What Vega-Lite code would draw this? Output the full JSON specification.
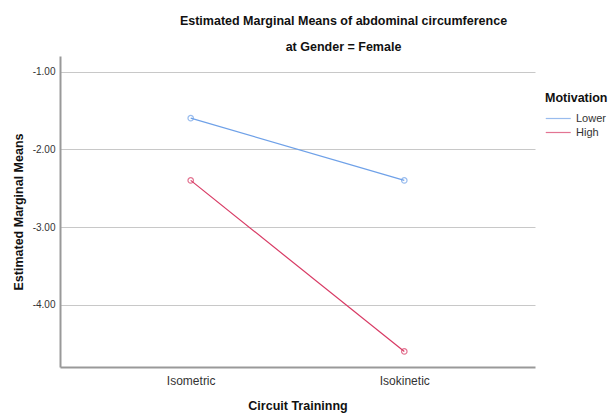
{
  "$schema": "https://vega.github.io/schema/vega-lite/v6.json",
  "autosize": "none",
  "width": 475,
  "height": 311,
  "padding": {"left": 60, "top": 56, "right": 74, "bottom": 48},
  "background": "white",
  "config": {
    "font": "Liberation Sans",
    "view": {"stroke": null}
  },
  "title": {
    "text": ["Estimated Marginal Means of abdominal circumference", "at Gender = Female"],
    "fontSize": 12.5,
    "fontWeight": "bold",
    "color": "#111",
    "anchor": "middle",
    "dx": 46,
    "offset": 3,
    "lineHeight": 26
  },
  "data": {
    "values": [
      {"training": "Isometric", "motivation": "Lower", "mean": -1.60},
      {"training": "Isokinetic", "motivation": "Lower", "mean": -2.40},
      {"training": "Isometric", "motivation": "High", "mean": -2.40},
      {"training": "Isokinetic", "motivation": "High", "mean": -4.60}
    ]
  },
  "encoding": {
    "x": {
      "field": "training",
      "type": "nominal",
      "sort": ["Isometric", "Isokinetic"],
      "scale": {"type": "point", "padding": 0.612},
      "axis": {
        "title": "Circuit Traininng",
        "titleFontSize": 12.5,
        "titleFontWeight": "bold",
        "titleColor": "#111",
        "titlePadding": 13,
        "labelAngle": 0,
        "labelFontSize": 12,
        "labelColor": "#333",
        "labelPadding": 8,
        "ticks": false,
        "domainColor": "#999",
        "domainWidth": 2,
        "grid": false
      }
    },
    "y": {
      "field": "mean",
      "type": "quantitative",
      "scale": {"domain": [-4.8, -0.8], "nice": false, "zero": false},
      "axis": {
        "title": "Estimated Marginal Means",
        "titleFontSize": 12.5,
        "titleFontWeight": "bold",
        "titleColor": "#111",
        "titlePadding": 7,
        "values": [-1, -2, -3, -4],
        "labelExpr": "replace(format(datum.value, '.2f'), '\u2212', '-')",
        "labelFontSize": 10,
        "labelColor": "#333",
        "labelPadding": 5,
        "ticks": false,
        "domainColor": "#999",
        "domainWidth": 2,
        "grid": true,
        "gridColor": "#c8c8c8",
        "gridWidth": 1
      }
    },
    "color": {
      "field": "motivation",
      "type": "nominal",
      "sort": ["Lower", "High"],
      "scale": {"domain": ["Lower", "High"], "range": ["#6fa1e8", "#d83a64"]},
      "legend": {
        "title": "Motivation",
        "titleFontSize": 12.5,
        "titleFontWeight": "bold",
        "titleColor": "#111",
        "labelFontSize": 11,
        "labelColor": "#333",
        "symbolType": "M-1,0H3",
        "symbolSize": 156,
        "symbolStrokeWidth": 1.2,
        "orient": "none",
        "legendX": 485,
        "legendY": 36,
        "rowPadding": 2,
        "labelOffset": 17,
        "titlePadding": 7
      }
    }
  },
  "layer": [
    {"mark": {"type": "line", "strokeWidth": 1.2}},
    {"mark": {"type": "point", "filled": false, "size": 30, "strokeWidth": 1.2}, "encoding": {"shape": {"value": "circle"}}}
  ]
}
